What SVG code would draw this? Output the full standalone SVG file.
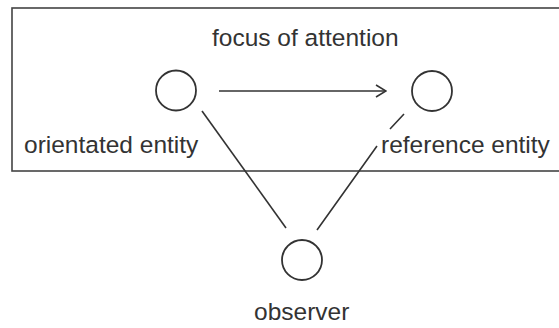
<svg xmlns="http://www.w3.org/2000/svg" width="559" height="328" viewBox="0 0 559 328">
<style>
.t{font-family:"Liberation Sans",Arial,sans-serif;font-size:24.5px;fill:#333}
.c{fill:none;stroke:#333;stroke-width:1.8}
.l{fill:none;stroke:#333;stroke-width:1.6}
</style>
<defs>
<marker id="ah" viewBox="0 0 12 14" refX="11" refY="7" markerWidth="12" markerHeight="14" markerUnits="userSpaceOnUse" orient="auto">
<path d="M1,1 L11,7 L1,13" fill="none" stroke="#333" stroke-width="1.6"/>
</marker>
</defs>
<rect x="0" y="0" width="559" height="328" fill="#fff"/>
<g id="focus-of-attention">
<rect x="12" y="8" width="560" height="163" fill="none" stroke="#444" stroke-width="1.6"/>
<text class="t" x="212" y="46">focus of attention</text>
</g>
<g id="orientated-entity">
<circle class="c" cx="176" cy="90.5" r="20"/>
<text class="t" x="24" y="153">orientated entity</text>
</g>
<g id="reference-entity">
<circle class="c" cx="432" cy="91" r="20"/>
<text class="t" x="381" y="153">reference entity</text>
</g>
<g id="observer">
<circle class="c" cx="302" cy="260" r="20"/>
<text class="t" x="254" y="320">observer</text>
</g>
<g id="connectors">
<line class="l" x1="219" y1="91" x2="386" y2="91" marker-end="url(#ah)"/>
<line class="l" x1="202" y1="111" x2="286" y2="228"/>
<path class="l" d="M317,230 L377,146 M390,129 L404,114"/>
</g>
</svg>
